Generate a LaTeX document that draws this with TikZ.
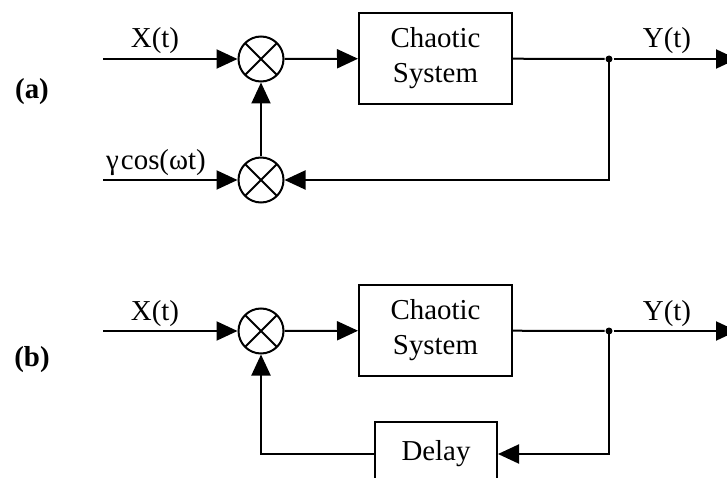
\documentclass[tikz,border=0pt]{standalone}
\usepackage{fontspec}
\setmainfont{Liberation Serif}
\usetikzlibrary{arrows.meta}
\begin{document}
\begin{tikzpicture}[x=1bp,y=-1bp,line width=2bp,
  every node/.style={font=\fontsize{29}{35}\selectfont},
  arr/.style={-{Triangle[length=21bp,width=19bp]}},
  mult/.style={circle,draw,minimum size=45bp,inner sep=0pt,
    path picture={\draw[line width=2bp] (path picture bounding box.north west) -- (path picture bounding box.south east)
      (path picture bounding box.north east) -- (path picture bounding box.south west);}},
  block/.style={draw,minimum width=153bp,minimum height=91bp,inner sep=0pt,align=center},
  lab/.style={inner sep=0pt,anchor=base},
  tag/.style={font=\fontsize{29}{35}\selectfont\bfseries,inner sep=0pt},
  dot/.style={circle,fill,inner sep=0pt,minimum size=7bp}]
\useasboundingbox (0,0) rectangle (727,478);
\clip (0,0) rectangle (727,478);
% (a)
\node[tag] (la) at (32,92) {(a)};
\coordinate (in1) at (103,59);
\coordinate (in2) at (103,180);
\node[mult] (m1) at (261,59) {};
\node[mult] (m2) at (261,180) {};
\node[block] (s1) at (435.5,58.5) {Chaotic\\System};
\node[dot] (j1) at (609,59) {};
\coordinate (o1) at (737,59);
\node[lab] (tx1) at (155,48) {X(t)};
\node[lab] (ty1) at (667,48) {Y(t)};
\node[lab] (tg) at (156,170) {γ\kern2bp cos(ωt)};
\draw[arr] (in1) -- (m1);
\draw[arr] (m1) -- (s1);
\draw (s1) -- (j1);
\draw[arr] (j1) -- (o1);
\draw[arr] (j1.center) |- (m2);
\draw[arr] (in2) -- (m2);
\draw[arr] (m2) -- (m1);
% (b)
\node[tag] (lb) at (32,360) {(b)};
\coordinate (in3) at (103,331);
\node[mult] (m3) at (261,331) {};
\node[block] (s2) at (435.5,330.5) {Chaotic\\System};
\node[dot] (j2) at (609,331) {};
\coordinate (o2) at (737,331);
\node[draw,minimum width=122bp,minimum height=64bp,inner sep=0pt] (d) at (436,454) {Delay};
\node[lab] (tx2) at (155,320) {X(t)};
\node[lab] (ty2) at (667,320) {Y(t)};
\draw[arr] (in3) -- (m3);
\draw[arr] (m3) -- (s2);
\draw (s2) -- (j2);
\draw[arr] (j2) -- (o2);
\draw[arr] (j2.center) |- (d);
\draw[arr] (d) -| (m3);
\end{tikzpicture}
\end{document}
